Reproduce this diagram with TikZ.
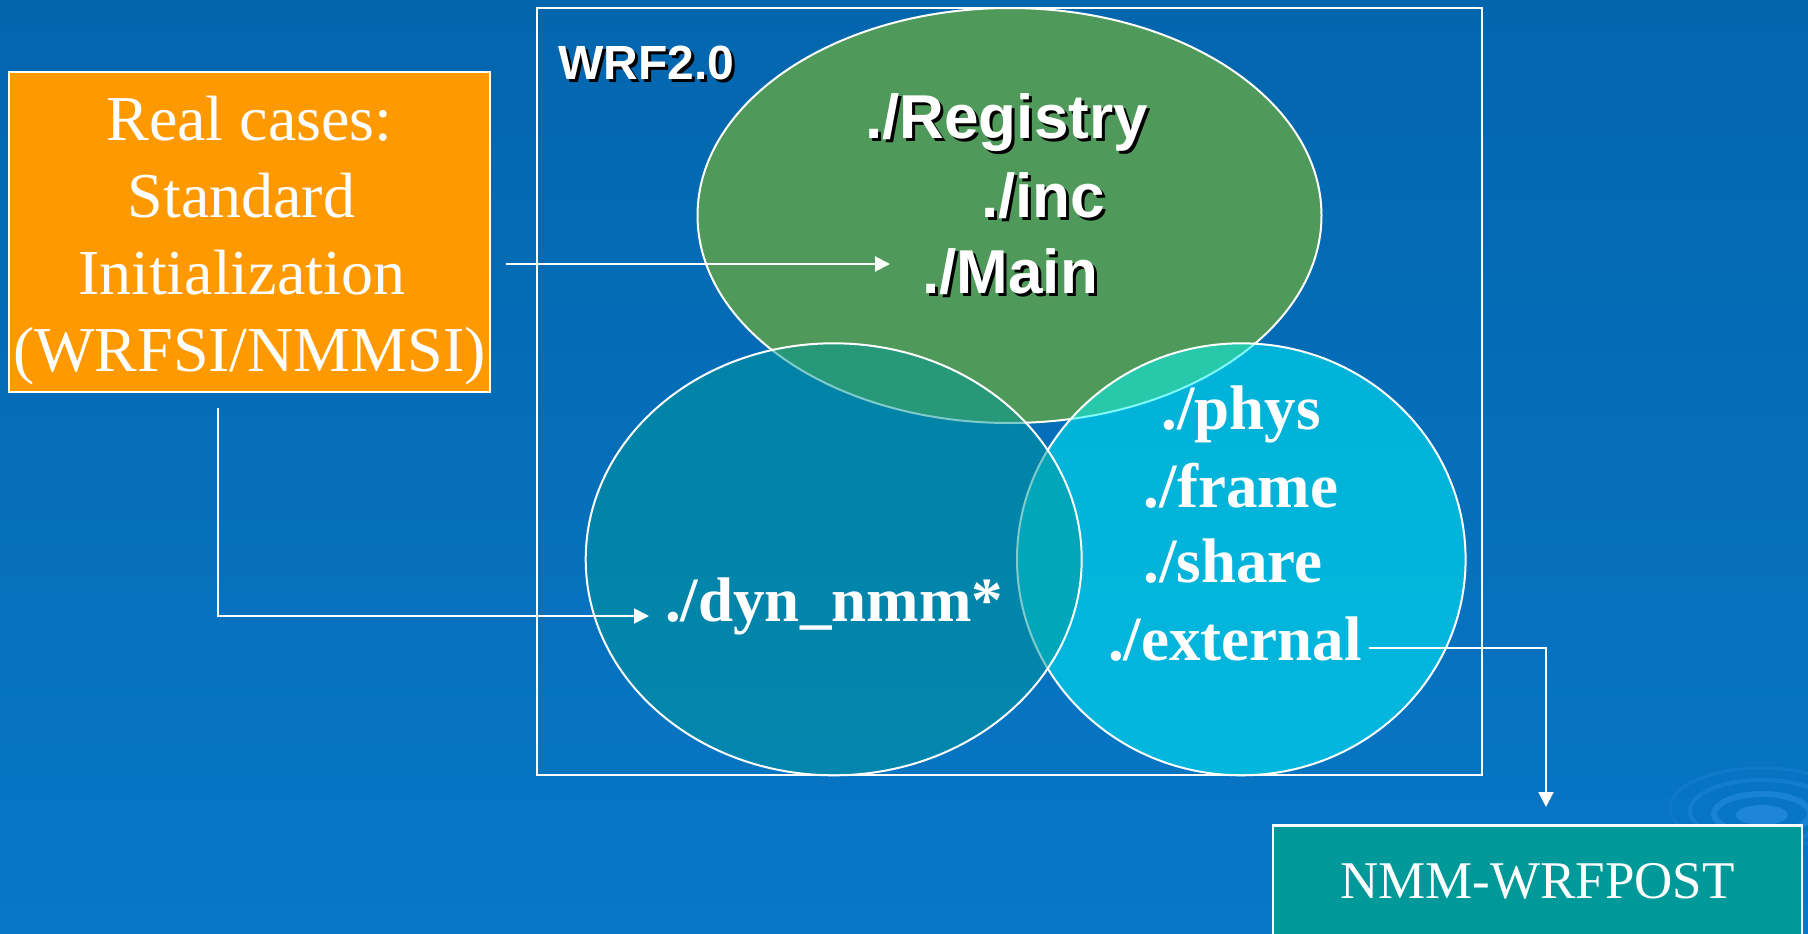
\documentclass[tikz,border=0pt]{standalone}
\usepackage{fontspec}
\setmainfont{Liberation Serif}
\newfontfamily\arialfont{Liberation Sans}
\usetikzlibrary{arrows.meta}
\definecolor{bgtop}{HTML}{0266AD}
\definecolor{bgbot}{HTML}{0877C7}
\definecolor{realorange}{HTML}{FF9900}
\definecolor{maingreen}{HTML}{4F9A5A}
\definecolor{dyncol}{HTML}{009999}
\definecolor{physcol}{HTML}{00F9FA}
\definecolor{postcol}{HTML}{009999}
\definecolor{ripple}{HTML}{2C90E2}
\newcommand\shd[1]{\makebox[0pt][l]{\hspace{3pt}\raisebox{-3pt}{\color{black}#1}}#1}

\begin{document}
\begin{tikzpicture}[x=1pt,y=-1pt,
    arr/.style={white,line width=2pt,-{Triangle[length=15pt,width=15pt]}},
    venn/.style={draw=white,line width=2pt},
    dirsans/.style={inner sep=0,text=white,font=\arialfont\bfseries\fontsize{62}{62}\selectfont},
    dirserif/.style={inner sep=0,text=white,font=\bfseries\fontsize{63}{63}\selectfont},
    box/.style={draw=white,line width=2.5pt,inner sep=0}]
  \useasboundingbox (0,0) rectangle (1808,934);
  \shade[top color=bgtop,bottom color=bgbot] (0,0) rectangle (1808,934);

  \begin{scope}
    \clip (0,0) rectangle (1808,934);
    \fill[ripple,opacity=0.6] (1762,815) ellipse [x radius=26, y radius=10];
    \draw[ripple,opacity=0.5,line width=6] (1762,814) ellipse [x radius=48, y radius=20];
    \draw[ripple,opacity=0.35,line width=4] (1762,811) ellipse [x radius=72, y radius=31];
    \draw[ripple,opacity=0.22,line width=3] (1762,808) ellipse [x radius=92, y radius=40];
  \end{scope}

  \node[draw=white,line width=2pt,minimum width=945,minimum height=767,inner sep=0] (wrf) at (1009.5,391.5) {};

  \filldraw[venn,fill=maingreen] (1009.5,215.5) ellipse [x radius=312, y radius=207.5];
  \filldraw[venn,fill=physcol,fill opacity=0.5] (1241.3,559.3) ellipse [x radius=224.3, y radius=216];
  \filldraw[venn,fill=dyncol,fill opacity=0.5] (833.7,559.3) ellipse [x radius=248, y radius=216];

  \node[dirsans,anchor=base west] (wrflbl) at (558,80) {\fontsize{48}{48}\selectfont\shd{WRF2.0}};
  \node[dirsans,anchor=base west] (registry) at (865,138) {\shd{./Registry}};
  \node[dirsans,anchor=base west] (inc) at (981,217) {\shd{./inc}};
  \node[dirsans,anchor=base west] (main) at (922,293) {\shd{./Main}};

  \node[dirserif,anchor=base west] (dyn) at (665,621) {./dyn\_nmm*};

  \node[dirserif,anchor=base] (phys) at (1241,429) {./phys};
  \node[dirserif,anchor=base] (frame) at (1241,507) {./frame};
  \node[dirserif,anchor=base] (share) at (1233,582) {./share};
  \node[dirserif,anchor=base] (external) at (1235,660) {./external};

  \node[box,fill=realorange,minimum width=481,minimum height=320] (real) at (249.5,232) {};
  \node[align=center,text=white,inner sep=0,font=\fontsize{64}{77}\selectfont,anchor=north] (reallbl) at (249.5,96) {Real cases:\\Standard\rule{16pt}{0pt}\\Initialization\rule{16pt}{0pt}\\(WRFSI/NMMSI)};

  \node[box,fill=postcol,minimum width=529,minimum height=113,anchor=north,text=white,font=\fontsize{53}{53}\selectfont] (post) at (1537.5,824) {NMM-WRFPOST};

  \draw[arr] ([shift={(15,32)}]real.east) -- ([shift={(-32,-29)}]main.base west);
  \draw[arr] ([shift={(-31.5,15)}]real.south) |- ([shift={(-16,-5)}]dyn.base west);
  \draw[arr] ([shift={(7,-12)}]external.base east) -| ([shift={(8.5,-17)}]post.north);
\end{tikzpicture}
\end{document}
